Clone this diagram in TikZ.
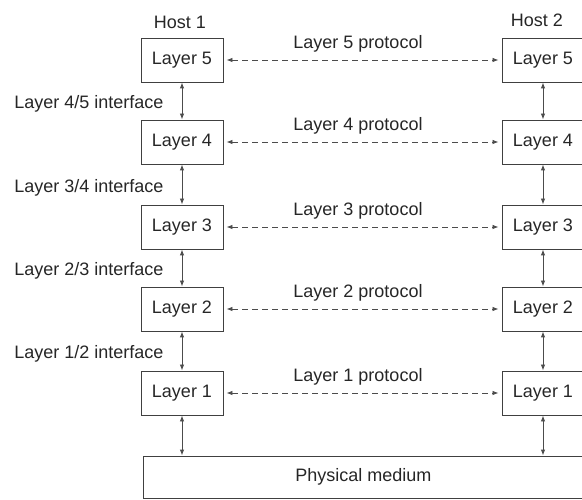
\documentclass[tikz,border=0pt]{standalone}
\usepackage{fontspec}
\setmainfont{Liberation Sans}
\usetikzlibrary{arrows.meta}
\begin{document}
\begin{tikzpicture}[x=1pt,y=-1pt,
  every node/.style={font=\fontsize{18}{21}\selectfont, text=black!85},
  layer/.style={draw=black!75, line width=0.9pt, minimum width=82pt, minimum height=44pt, inner sep=0pt},
  proto/.style={draw=black!70, line width=0.8pt, dash pattern=on 6pt off 4pt,
    {Latex[length=6pt,width=4.5pt]}-{Latex[length=6pt,width=4.5pt]}, shorten <=3pt, shorten >=3pt},
  iface/.style={draw=black!70, line width=0.9pt,
    {Latex[length=6pt,width=4.5pt]}-{Latex[length=6pt,width=4.5pt]}},
]
\useasboundingbox (0,0) rectangle (582,500);
\foreach \n/\y in {5/60,4/142,3/227,2/309,1/393}{
  \node[layer] (a\n) at (182,\y) {Layer \n};
  \node[layer] (b\n) at (543,\y) {Layer \n};
  \draw[proto] (a\n) -- (b\n);
  \node (p\n) at (358,\y-16) {Layer \n{} protocol};
}
\foreach \u/\l in {5/4,4/3,3/2,2/1}{
  \draw[iface] (a\u) -- (a\l);
  \draw[iface] (b\u) -- (b\l);
}
\node[anchor=east] (i45) at (167,104) {Layer 4/5 interface};
\node[anchor=east] (i34) at (167,187.5) {Layer 3/4 interface};
\node[anchor=east] (i23) at (167,271) {Layer 2/3 interface};
\node[anchor=east] (i12) at (167,354) {Layer 1/2 interface};
\node (h1) at (180,22) {Host 1};
\node (h2) at (537,20) {Host 2};
\node[layer, minimum width=441pt, minimum height=42pt] (phys) at (363.5,477) {Physical medium};
\draw[iface] (a1.south) -- (a1.south |- phys.north);
\draw[iface] (b1.south) -- (b1.south |- phys.north);
\end{tikzpicture}
\end{document}
